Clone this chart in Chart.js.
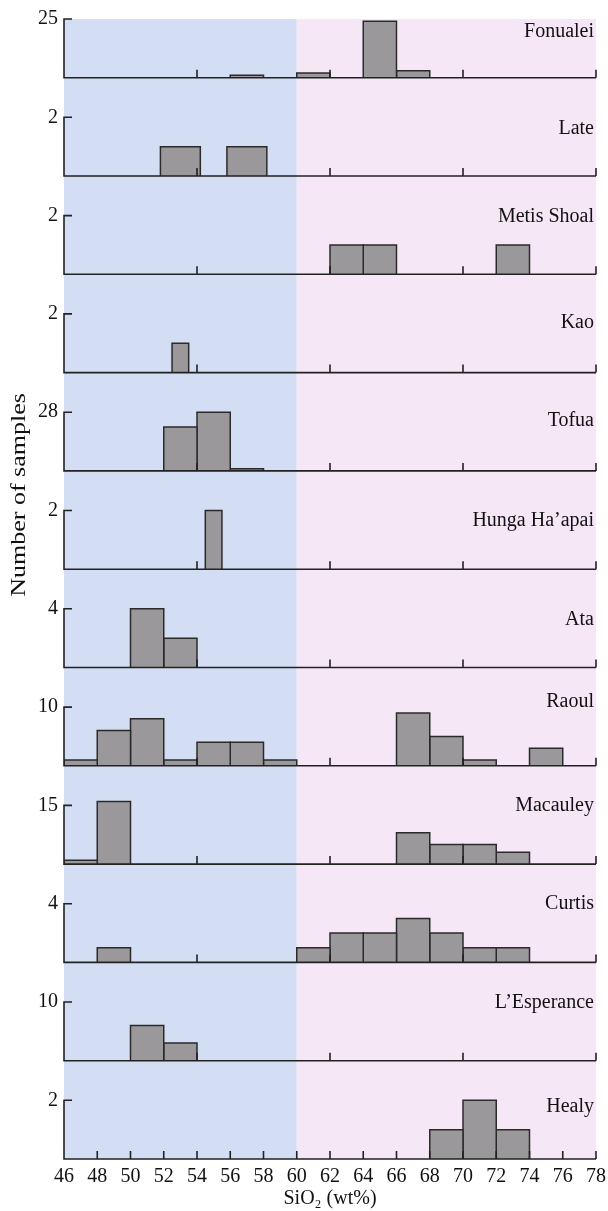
<!DOCTYPE html>
<html>
<head>
<meta charset="utf-8">
<script src="https://cdn.jsdelivr.net/npm/chart.js@4.4.0/dist/chart.umd.min.js"></script>
<style>
  body { margin: 0; background: #fff; }
  #chart-container { width: 608px; height: 1211px; }
</style>
</head>
<body>
<div id="chart-container"><canvas id="myChart" width="608" height="1211"></canvas></div>
<script>
// panels, top to bottom
var volcanoes = ['Fonualei', 'Late', 'Metis Shoal', 'Kao', 'Tofua', 'Hunga Ha\u2019apai', 'Ata',
                 'Raoul', 'Macauley', 'Curtis', 'L\u2019Esperance', 'Healy']

// the one labelled y tick of each panel
var panelTicks = [25, 2, 2, 2, 28, 2, 4, 10, 15, 4, 10, 2]

// histogram bins: start and end (SiO2 wt%) and number of samples
var binStarts = [
    [56, 60, 64, 66],
    [51.8, 55.8],
    [62, 64, 72],
    [52.5],
    [52, 54, 56],
    [54.5],
    [50, 52],
    [46, 48, 50, 52, 54, 56, 58, 66, 68, 70, 74],
    [46, 48, 66, 68, 70, 72],
    [48, 60, 62, 64, 66, 68, 70, 72],
    [50, 52],
    [68, 70, 72]
]
var binEnds = [
    [58, 62, 66, 68],
    [54.2, 58.2],
    [64, 66, 74],
    [53.5],
    [54, 56, 58],
    [55.5],
    [52, 54],
    [48, 50, 52, 54, 56, 58, 60, 68, 70, 72, 76],
    [48, 50, 68, 70, 72, 74],
    [50, 62, 64, 66, 68, 70, 72, 74],
    [52, 54],
    [70, 72, 74]
]
var counts = [
    [1, 2, 24, 3],
    [1, 1],
    [1, 1, 1],
    [1],
    [21, 28, 1],
    [2],
    [4, 2],
    [1, 6, 8, 1, 4, 4, 1, 9, 5, 1, 3],
    [1, 16, 8, 5, 5, 3],
    [1, 1, 2, 2, 3, 2, 1, 1],
    [6, 3],
    [1, 2, 1]
]

// x axis
var xTicks = [46, 48, 50, 52, 54, 56, 58, 60, 62, 64, 66, 68, 70, 72, 74, 76, 78]
var innerTicks = [54, 62, 70, 78]
var fieldSplit = 60   // blue field left of this, pink right

// layout / style bits
var headroom = 98.3 / 58.7           // panel pitch over tick height
var labelDy = [13, 11, 1, 9, 9, 10, 11, -5, 0, 0, 1, 6]
var font = 'Liberation Serif'
var ink = '#111'
var lineCol = '#222'

function buildDatasets() {
    var sets = []
    for (var i = 0; i < volcanoes.length; i++) {
        for (var j = 0; j < counts[i].length; j++) {
            sets.push({
                label: volcanoes[i],
                yAxisID: 'y' + i,
                data: [
                    {x: binStarts[i][j], y: 0},
                    {x: binStarts[i][j], y: counts[i][j]},
                    {x: binEnds[i][j], y: counts[i][j]},
                    {x: binEnds[i][j], y: 0}
                ],
                backgroundColor: '#9a989a',
                borderColor: '#2a2a2a',
                borderWidth: 1.5,
                fill: 'origin',
                pointRadius: 0,
                tension: 0
            })
        }
    }
    return sets
}

function buildScales() {
    var scales = {
        x: {
            type: 'linear',
            position: 'bottom',
            min: 46,
            max: 78,
            afterBuildTicks: function (s) { s.ticks = xTicks.map(function (v) { return {value: v} }) },
            afterFit: function (s) { s.height = 52; s.paddingRight = 0 },
            grid: {display: false, drawTicks: false},
            border: {display: false},
            ticks: {color: ink, font: {family: font, size: 20}, padding: 6, maxRotation: 0, autoSkip: false},
            title: {display: true, text: 'SiO\u2082 (wt%)', color: ink, font: {family: font, size: 20}, padding: 0}
        }
    }
    volcanoes.forEach(function (name, i) {
        scales['y' + i] = {
            type: 'linear',
            position: 'left',
            stack: 'panels',
            stackWeight: i == 0 ? 1 : headroom,
            weight: volcanoes.length - i,
            min: 0,
            max: i == 0 ? panelTicks[i] : panelTicks[i] * headroom,
            afterBuildTicks: function (s) { s.ticks = [{value: panelTicks[i]}] },
            afterFit: function (s) { s.width = 64 },
            grid: {display: false, drawTicks: false},
            border: {display: false},
            ticks: {color: ink, font: {family: font, size: 20}, padding: 6}
        }
    })
    return scales
}

var panelPlugin = {
    id: 'panels',
    beforeDatasetsDraw: function (chart) {
        var ctx = chart.ctx
        var area = chart.chartArea
        var split = chart.scales.x.getPixelForValue(fieldSplit)
        ctx.save()
        ctx.fillStyle = '#d3ddf4'
        ctx.fillRect(area.left, area.top, split - area.left, area.bottom - area.top)
        ctx.fillStyle = '#f6e7f7'
        ctx.fillRect(split, area.top, area.right - split, area.bottom - area.top)
        ctx.restore()
    },
    afterDatasetsDraw: function (chart) {
        var ctx = chart.ctx
        var x = chart.scales.x
        var left = x.getPixelForValue(46)
        var right = x.getPixelForValue(78)
        ctx.save()
        ctx.strokeStyle = lineCol
        ctx.lineWidth = 1.6
        for (var i = 0; i < volcanoes.length; i++) {
            var y = chart.scales['y' + i]
            var base = y.getPixelForValue(0)
            var top = y.getPixelForValue(panelTicks[i])
            ctx.beginPath()
            ctx.moveTo(left + 8, top)
            ctx.lineTo(left, top)
            ctx.lineTo(left, base)
            ctx.lineTo(right, base)
            var marks = i == volcanoes.length - 1 ? xTicks : innerTicks
            marks.forEach(function (v) {
                var px = x.getPixelForValue(v)
                ctx.moveTo(px, base)
                ctx.lineTo(px, base - 8)
            })
            ctx.stroke()

            ctx.fillStyle = ink
            ctx.font = '20px "' + font + '"'
            ctx.textAlign = 'right'
            ctx.textBaseline = 'middle'
            ctx.fillText(volcanoes[i], right - 2, top + labelDy[i])
        }
        // y title
        ctx.translate(20, 495)
        ctx.rotate(-Math.PI / 2)
        ctx.scale(1.3, 1)
        ctx.textAlign = 'center'
        ctx.fillText('Number of samples', 0, 0)
        ctx.restore()
    }
}

var ctx = document.getElementById('myChart')
var myChart = new Chart(ctx, {
    type: 'line',
    data: {datasets: buildDatasets()},
    options: {
        responsive: false,
        animation: false,
        layout: {padding: {top: 19, right: 12, bottom: 0, left: 0}},
        scales: buildScales(),
        plugins: {
            legend: {display: false},
            tooltip: {enabled: false}
        }
    },
    plugins: [panelPlugin]
})
</script>
</body>
</html>
